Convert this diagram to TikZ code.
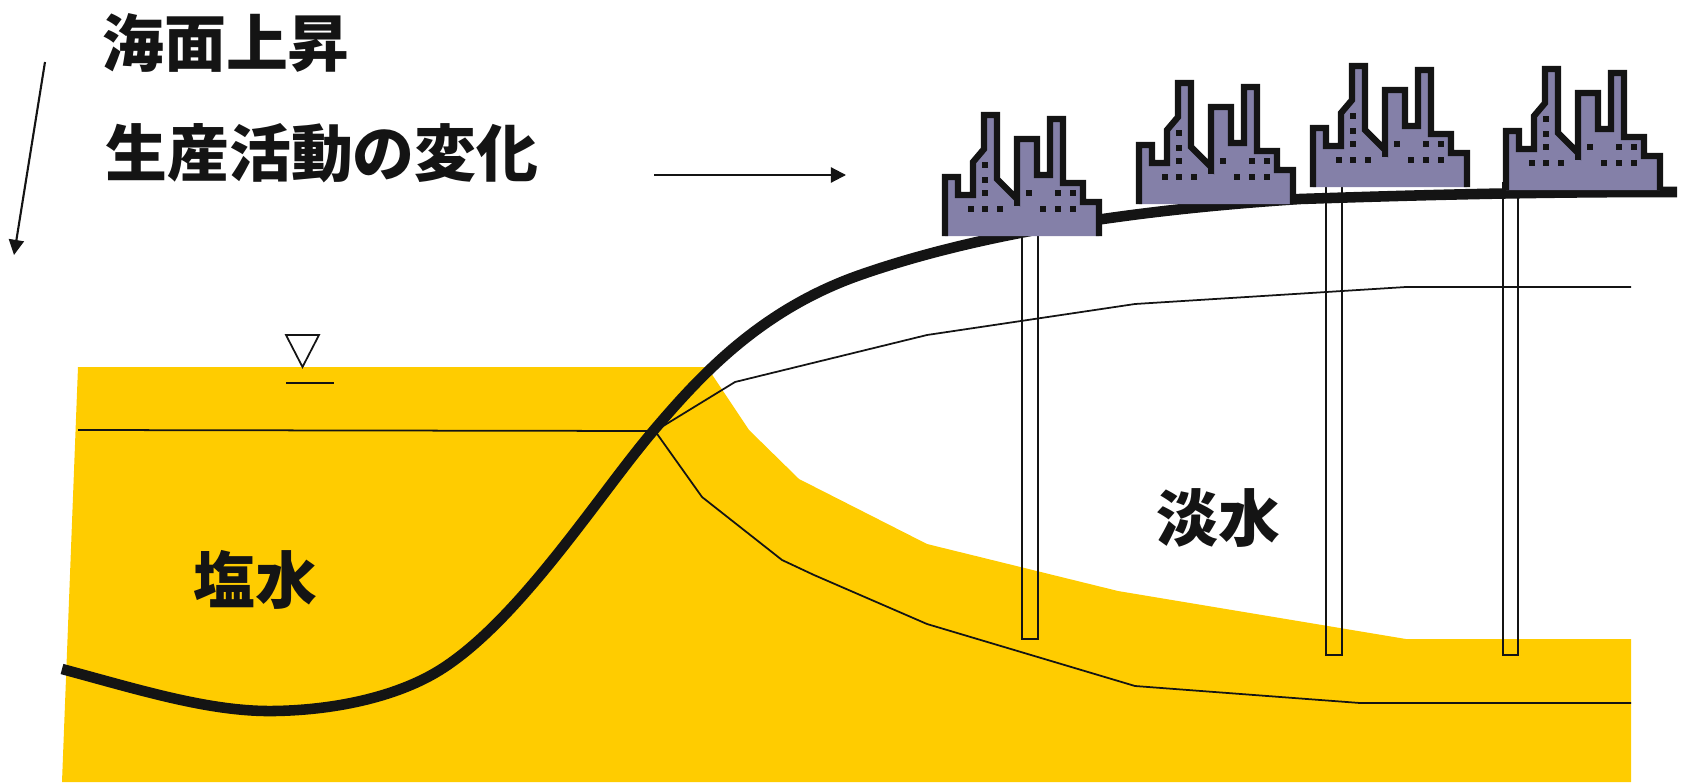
\documentclass[tikz,border=0pt]{standalone}
\usepackage{fontspec}
\newfontfamily\jp{Noto Sans CJK JP}
\usetikzlibrary{arrows.meta}

\definecolor{salt}{RGB}{255,204,0}
\definecolor{ink}{RGB}{20,20,20}
\definecolor{plant}{RGB}{132,128,168}

\tikzset{
  lbl/.style={font=\jp\bfseries\fontsize{17.6}{20}\selectfont, text=ink, inner sep=0pt},
  thin/.style={draw=ink, line width=0.5pt},
  ground/.style={draw=ink, line width=3pt, line cap=butt},
  arr/.style={draw=ink, line width=0.6pt, -{Triangle[length=4.3pt,width=4.3pt]}},
  factory/.pic={
    \fill[plant] (0,0) -- (0,-59) -- (13,-59) -- (13,-41) -- (28,-41) -- (28,-74)
      -- (39,-87) -- (39,-121) -- (52,-121) -- (52,-57) -- (72,-37) -- (72,-97)
      -- (92,-97) -- (92,-61) -- (105,-61) -- (105,-117) -- (118,-117) -- (118,-53)
      -- (138,-53) -- (138,-34) -- (154,-34) -- (154,0) -- cycle;
    \draw[ink, line width=1.8pt, line join=miter] (0,0) -- (0,-59) -- (13,-59) -- (13,-41)
      -- (28,-41) -- (28,-74) -- (39,-87) -- (39,-121) -- (52,-121) -- (52,-57)
      -- (72,-37) -- (72,-97) -- (92,-97) -- (92,-61) -- (105,-61) -- (105,-117)
      -- (118,-117) -- (118,-53) -- (138,-53) -- (138,-34) -- (154,-34) -- (154,0);
    \draw[ink, line width=1.8pt] (72,-37) -- (72,-30);
    % ventanas
    \foreach \wx/\wy in {40/71, 40/56, 40/43, 26/27, 40/27, 55/27,
                         84/43, 98/27, 113/27, 128/27, 113/43, 128/43}
      \fill[ink] (\wx,-\wy) +(-2.7,-2.7) rectangle +(2.7,2.7);
  }
}

\begin{document}
\begin{tikzpicture}[x=0.01cm, y=-0.01cm]
    \useasboundingbox (0,0) rectangle (1686,782);

    % Agua salada
    \fill[salt] (78,367) -- (707,367) -- (749,430) -- (799,479) -- (927,544)
      -- (1118,591) -- (1406,639) -- (1631,639) -- (1631,782) -- (62,782) -- cycle;

    % Interfaz
    \coordinate (P) at (655,431);
    \draw[thin] (78,430) -- (P);
    \draw[thin] (P) -- (735,382) -- (927,335) -- (1135,304) -- (1406,287) -- (1631,287);
    \draw[thin] (P) -- (702,497) -- (782,560) -- (814,575) -- (927,624)
      -- (1135,686) -- (1360,703) -- (1631,703);

    % Nivel del mar
    \draw[thin, line join=miter] (286,335) -- (319,335) -- (302.5,367) -- cycle;
    \draw[thin] (286,383) -- (334,383);

    % Pozos
    \draw[thin] (1022,230) rectangle (1038,639);
    \draw[thin] (1326,180) rectangle (1342,655);
    \draw[thin] (1503,183) rectangle (1518,655);

    % Superficie del terreno
    \draw[ground] (62,669) .. controls (140,690) and (210,712) .. (274,711)
      .. controls (340,710) and (400,695) .. (440,670)
      .. controls (520,620) and (600,493) .. (654,430)
      .. controls (700,376) and (760,310) .. (860,275)
      .. controls (960,240) and (1100,212) .. (1300,199)
      .. controls (1450,194) and (1550,192) .. (1677,192);

    % Fábricas
    \pic at (945,236) {factory};
    \pic at (1139,204) {factory};
    \pic at (1313,187) {factory};
    \pic at (1506,190) {factory};

    % Textos
    \node[lbl] (rise) at (226,43) {海面上昇};
    \node[lbl] (prod) at (322,153) {生産活動の変化};
    \node[lbl] (salty) at (255,580) {塩水};
    \node[lbl] (fresh) at (1218,518) {淡水};

    % Flechas
    \coordinate (a1) at (45,62);
    \coordinate (a2) at (14,255);
    \coordinate (b1) at (654,175);
    \coordinate (b2) at (846,175);
    \draw[arr] (a1) -- (a2);
    \draw[arr] (b1) -- (b2);
\end{tikzpicture}
\end{document}
